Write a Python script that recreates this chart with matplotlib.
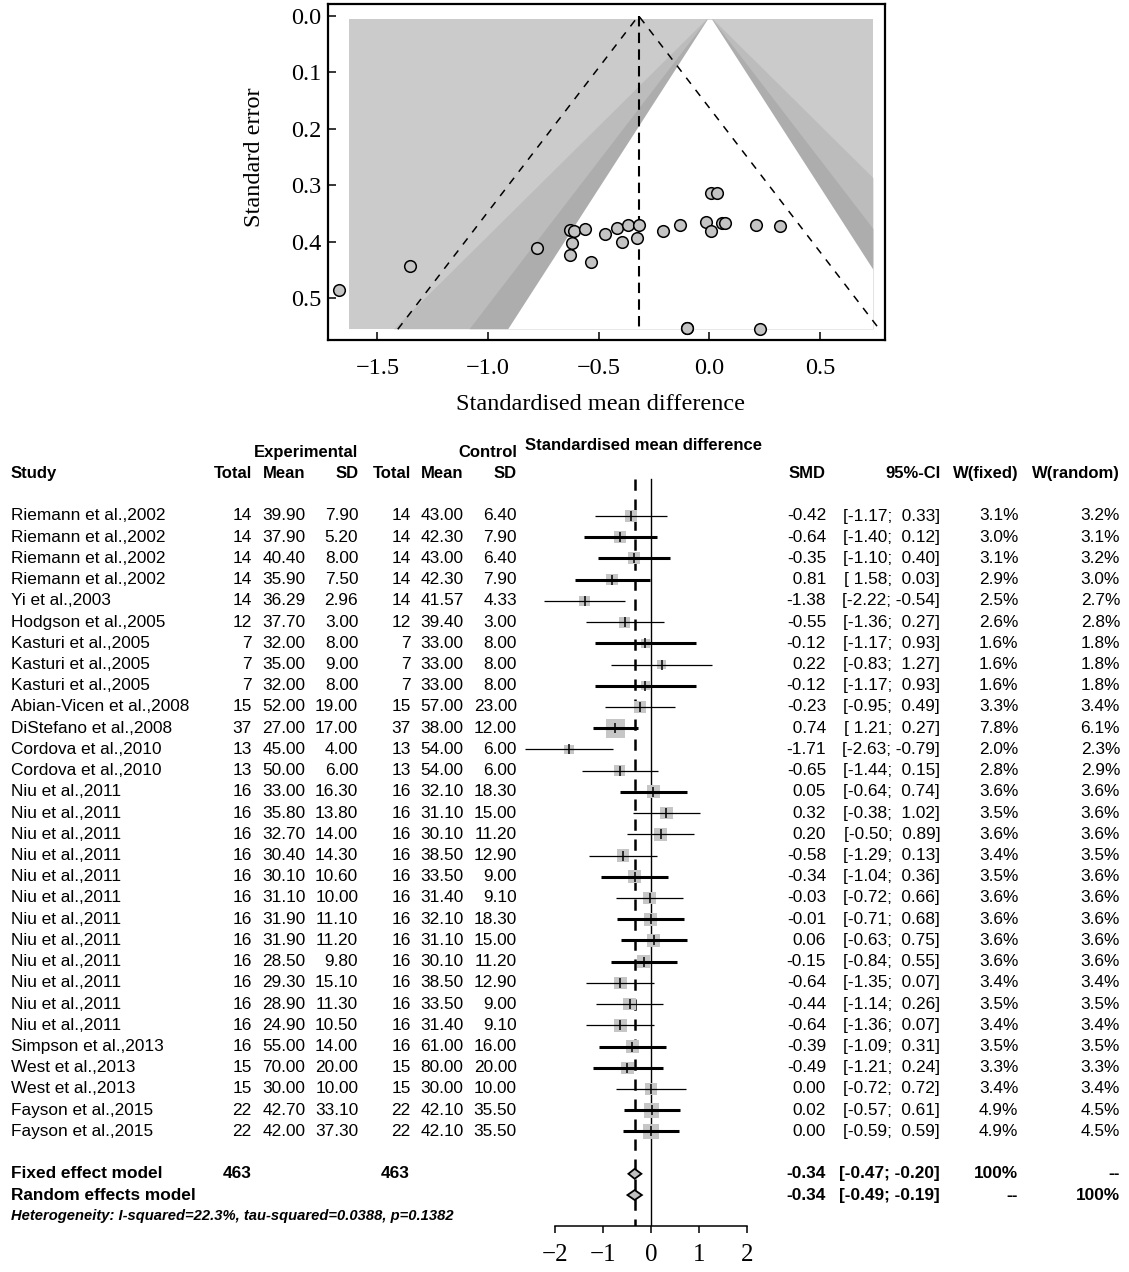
import matplotlib.pyplot as plt
from matplotlib.patches import Rectangle, Polygon
import numpy as np

# ---------------- data ----------------
studies = ["Riemann et al.,2002"] * 4 + ["Yi et al.,2003", "Hodgson et al.,2005"] + \
    ["Kasturi et al.,2005"] * 3 + ["Abian-Vicen et al.,2008", "DiStefano et al.,2008"] + \
    ["Cordova et al.,2010"] * 2 + ["Niu et al.,2011"] * 12 + ["Simpson et al.,2013"] + \
    ["West et al.,2013"] * 2 + ["Fayson et al.,2015"] * 2

exp_n = [14, 14, 14, 14, 14, 12, 7, 7, 7, 15, 37, 13, 13,
         16, 16, 16, 16, 16, 16, 16, 16, 16, 16, 16, 16, 16, 15, 15, 22, 22]
exp_mean = [39.90, 37.90, 40.40, 35.90, 36.29, 37.70, 32.00, 35.00, 32.00, 52.00, 27.00, 45.00, 50.00,
            33.00, 35.80, 32.70, 30.40, 30.10, 31.10, 31.90, 31.90, 28.50, 29.30, 28.90, 24.90,
            55.00, 70.00, 30.00, 42.70, 42.00]
exp_sd = [7.90, 5.20, 8.00, 7.50, 2.96, 3.00, 8.00, 9.00, 8.00, 19.00, 17.00, 4.00, 6.00,
          16.30, 13.80, 14.00, 14.30, 10.60, 10.00, 11.10, 11.20, 9.80, 15.10, 11.30, 10.50,
          14.00, 20.00, 10.00, 33.10, 37.30]
ctl_n = exp_n
ctl_mean = [43.00, 42.30, 43.00, 42.30, 41.57, 39.40, 33.00, 33.00, 33.00, 57.00, 38.00, 54.00, 54.00,
            32.10, 31.10, 30.10, 38.50, 33.50, 31.40, 32.10, 31.10, 30.10, 38.50, 33.50, 31.40,
            61.00, 80.00, 30.00, 42.10, 42.10]
ctl_sd = [6.40, 7.90, 6.40, 7.90, 4.33, 3.00, 8.00, 8.00, 8.00, 23.00, 12.00, 6.00, 6.00,
          18.30, 15.00, 11.20, 12.90, 9.00, 9.10, 18.30, 15.00, 11.20, 12.90, 9.00, 9.10,
          16.00, 20.00, 10.00, 35.50, 35.50]
smd = [-0.42, -0.64, -0.35, -0.81, -1.38, -0.55, -0.12, 0.22, -0.12, -0.23, -0.74, -1.71, -0.65,
       0.05, 0.32, 0.20, -0.58, -0.34, -0.03, -0.01, 0.06, -0.15, -0.64, -0.44, -0.64,
       -0.39, -0.49, 0.00, 0.02, 0.00]
ci_lo = [-1.17, -1.40, -1.10, -1.58, -2.22, -1.36, -1.17, -0.83, -1.17, -0.95, -1.21, -2.63, -1.44,
         -0.64, -0.38, -0.50, -1.29, -1.04, -0.72, -0.71, -0.63, -0.84, -1.35, -1.14, -1.36,
         -1.09, -1.21, -0.72, -0.57, -0.59]
ci_hi = [0.33, 0.12, 0.40, -0.03, -0.54, 0.27, 0.93, 1.27, 0.93, 0.49, -0.27, -0.79, 0.15,
         0.74, 1.02, 0.89, 0.13, 0.36, 0.66, 0.68, 0.75, 0.55, 0.07, 0.26, 0.07,
         0.31, 0.24, 0.72, 0.61, 0.59]
w_fixed = [3.1, 3.0, 3.1, 2.9, 2.5, 2.6, 1.6, 1.6, 1.6, 3.3, 7.8, 2.0, 2.8,
           3.6, 3.5, 3.6, 3.4, 3.5, 3.6, 3.6, 3.6, 3.6, 3.4, 3.5, 3.4, 3.5, 3.3, 3.4, 4.9, 4.9]
w_random = [3.2, 3.1, 3.2, 3.0, 2.7, 2.8, 1.8, 1.8, 1.8, 3.4, 6.1, 2.3, 2.9,
            3.6, 3.6, 3.6, 3.5, 3.6, 3.6, 3.6, 3.6, 3.6, 3.4, 3.5, 3.4, 3.5, 3.3, 3.4, 4.5, 4.5]

fixed_est, fixed_lo, fixed_hi = -0.34, -0.47, -0.20
random_est, random_lo, random_hi = -0.34, -0.49, -0.19
heterogeneity = "Heterogeneity: I-squared=22.3%, tau-squared=0.0388, p=0.1382"

# rows printed without minus signs in the original output
rows_minus_dropped = [3, 10]
# rows whose CI line is drawn heavy in the original
ci_heavy = [1, 2, 3, 6, 8, 10, 13, 17, 19, 20, 21, 25, 26, 28, 29]

# funnel plot points
funnel_smd = [-1.675, -1.351, -0.781, -0.631, -0.611, -0.622, -0.631, -0.562, -0.536, -0.474,
              -0.416, -0.395, -0.369, -0.326, -0.317, -0.208, -0.131, -0.103, -0.103, -0.015,
              0.008, 0.036, 0.009, 0.058, 0.071, 0.212, 0.227, 0.320]
funnel_se = [0.486, 0.443, 0.412, 0.379, 0.381, 0.403, 0.424, 0.378, 0.436, 0.387,
             0.375, 0.400, 0.371, 0.393, 0.371, 0.381, 0.371, 0.553, 0.553, 0.366,
             0.314, 0.314, 0.381, 0.367, 0.367, 0.371, 0.555, 0.373]
funnel_center = -0.32
contour_z = [2.576, 1.96, 1.645]

# ---------------- figure ----------------
W, H = 1129, 1272
plt.rcParams['font.family'] = ['Liberation Sans', 'DejaVu Sans']
fig = plt.figure(figsize=(W / 100, H / 100), dpi=100)
SERIF = 'Liberation Serif'


def frac(x0, y0, x1, y1):
    return [x0 / W, 1 - y1 / H, (x1 - x0) / W, (y1 - y0) / H]


# ---- funnel plot ----
axf = fig.add_axes(frac(328, 4, 885, 340))
axf.set_xlim(-1.723, 0.793)
axf.set_ylim(0.574, -0.0207)

rx0, rx1, rs0, rs1 = -1.628, 0.738, 0.006, 0.554
axf.add_patch(Rectangle((rx0, rs0), rx1 - rx0, rs1 - rs0, color='#cbcbcb', lw=0, zorder=1))
se_grid = np.linspace(rs0, rs1, 400)
for z, col in zip(contour_z, ['#bcbcbc', '#adadad', 'white']):
    axf.fill_betweenx(se_grid, np.clip(-z * se_grid, rx0, rx1), np.clip(z * se_grid, rx0, rx1),
                      color=col, lw=0, zorder=2)

se_max = max(funnel_se)
axf.plot([funnel_center - 1.96 * se_max, funnel_center, funnel_center + 1.96 * se_max],
         [se_max, 0, se_max], color='black', lw=1.1, ls=(0, (5, 5)), zorder=3)
axf.plot([funnel_center, funnel_center], [0, se_max], color='black', lw=1.5,
         ls=(0, (5, 3)), zorder=3)
axf.scatter(funnel_smd, funnel_se, s=70, facecolor='#c4c4c4', edgecolor='black',
            lw=1.1, zorder=4, clip_on=False)

xt = [-1.5, -1.0, -0.5, 0.0, 0.5]
axf.set_xticks(xt, [f"{v:.1f}".replace('-', '\u2212') for v in xt], fontfamily=SERIF, fontsize=17.5)
yt = [0.0, 0.1, 0.2, 0.3, 0.4, 0.5]
axf.set_yticks(yt, [f"{v:.1f}" for v in yt], fontfamily=SERIF, fontsize=17.5)
axf.tick_params(axis='both', direction='in', length=6, width=1.1)
axf.tick_params(axis='x', pad=13)
axf.tick_params(axis='y', pad=5)
for sp in axf.spines.values():
    sp.set_linewidth(1.6)

# ---- overlay for text ----
axt = fig.add_axes([0, 0, 1, 1])
axt.set_xlim(0, W)
axt.set_ylim(H, 0)
axt.axis('off')
axt.patch.set_alpha(0)

axt.text(254, 157, "Standard error", rotation=90, ha='center', va='center',
         fontfamily=SERIF, fontsize=17.5)
axt.text(600, 405, "Standardised mean difference", ha='center', va='center',
         fontfamily=SERIF, fontsize=17.5)

# ---- forest plot ----
row0, dy = 516, 21.22


def row_y(i):
    return row0 + dy * i


PX = 48.05  # pixels per SMD unit
axp = fig.add_axes(frac(515, 440, 790, 1226))
axp.set_xlim((515 - 651) / PX, (790 - 651) / PX)
axp.set_ylim(1226, 440)
for s in ['top', 'left', 'right']:
    axp.spines[s].set_visible(False)
axp.spines['bottom'].set_bounds(-2, 2)
axp.spines['bottom'].set_linewidth(1.1)
axp.set_yticks([])
axp.set_xticks([-2, -1, 0, 1, 2], ['\u22122', '\u22121', '0', '1', '2'],
               fontfamily=SERIF, fontsize=18)
axp.tick_params(axis='x', direction='out', length=5, width=1.1, pad=8)
axp.patch.set_alpha(0)

ytop = row_y(-1.75)
axp.plot([0, 0], [ytop, 1226], color='black', lw=1.0, zorder=2)
axp.plot([fixed_est, fixed_est], [ytop, 1226], color='black', lw=1.8,
         ls=(0, (4.5, 3.5)), zorder=2)

for i in range(len(smd)):
    y = row_y(i)
    side = 6.8 * np.sqrt(w_fixed[i])
    axp.add_patch(Rectangle((smd[i] - side / 2 / PX, y - side / 2), side / PX, side,
                            color='#c6c6c6', lw=0, zorder=3))
    axp.plot([ci_lo[i], ci_hi[i]], [y, y], color='black',
             lw=2.2 if i in ci_heavy else 0.9, zorder=4, solid_capstyle='butt')
    axp.plot([smd[i]], [y], marker='|', ms=7, mew=1.1, color='black', zorder=5)

for est, lo, hi, r in [(fixed_est, fixed_lo, fixed_hi, 31), (random_est, random_lo, random_hi, 32)]:
    y = row_y(r)
    axp.add_patch(Polygon([(lo, y), (est, y - 5), (hi, y), (est, y + 5)], closed=True,
                          facecolor='#c0c0c0', edgecolor='black', lw=1.3, zorder=4))

# ---- table text ----
FS = 12.4
cols = dict(exp_n=251.8, exp_mean=305.4, exp_sd=358.2, ctl_n=410.7, ctl_mean=463.6,
            ctl_sd=516.8, smd=826, ci=940.2, wf=1018.3, wr=1120)

hy1, hy2 = row_y(-3), row_y(-2)
bold = dict(fontweight='bold', fontsize=12, va='center')
axt.text(cols['exp_sd'], hy1, "Experimental", ha='right', **bold)
axt.text(cols['ctl_sd'], hy1, "Control", ha='right', **bold)
axt.text(525, row_y(-3.3), "Standardised mean difference", ha='left', **bold)
axt.text(10.7, hy2, "Study", ha='left', **bold)
for key, lab in [('exp_n', 'Total'), ('exp_mean', 'Mean'), ('exp_sd', 'SD'),
                 ('ctl_n', 'Total'), ('ctl_mean', 'Mean'), ('ctl_sd', 'SD'),
                 ('smd', 'SMD'), ('ci', '95%-CI'), ('wf', 'W(fixed)'), ('wr', 'W(random)')]:
    axt.text(cols[key], hy2, lab, ha='right', **bold)

for i in range(len(studies)):
    y = row_y(i)
    smd_txt = f"{smd[i]:.2f}"
    ci_txt = f"[{ci_lo[i]:5.2f};{ci_hi[i]:6.2f}]"
    if i in rows_minus_dropped:
        smd_txt = smd_txt.replace('-', ' ')
        ci_txt = ci_txt.replace('-', ' ')
    cells = [('exp_n', f"{exp_n[i]}"), ('exp_mean', f"{exp_mean[i]:.2f}"), ('exp_sd', f"{exp_sd[i]:.2f}"),
             ('ctl_n', f"{ctl_n[i]}"), ('ctl_mean', f"{ctl_mean[i]:.2f}"), ('ctl_sd', f"{ctl_sd[i]:.2f}"),
             ('smd', smd_txt), ('ci', ci_txt), ('wf', f"{w_fixed[i]:.1f}%"), ('wr', f"{w_random[i]:.1f}%")]
    axt.text(10.7, y, studies[i], ha='left', va='center', fontsize=FS)
    for key, txt in cells:
        axt.text(cols[key], y, txt, ha='right', va='center', fontsize=FS)

bold_row = dict(fontweight='bold', fontsize=FS, va='center')
y = row_y(31)
axt.text(10.7, y, "Fixed effect model", ha='left', **bold_row)
axt.text(cols['exp_n'], y, f"{sum(exp_n)}", ha='right', **bold_row)
axt.text(cols['ctl_n'] - 1, y, f"{sum(ctl_n)}", ha='right', **bold_row)
axt.text(cols['smd'], y, f"{fixed_est:.2f}", ha='right', **bold_row)
axt.text(cols['ci'], y, f"[{fixed_lo:.2f}; {fixed_hi:.2f}]", ha='right', **bold_row)
axt.text(cols['wf'], y, "100%", ha='right', **bold_row)
axt.text(cols['wr'], y, "--", ha='right', **bold_row)

y = row_y(32)
axt.text(10.7, y, "Random effects model", ha='left', **bold_row)
axt.text(cols['smd'], y, f"{random_est:.2f}", ha='right', **bold_row)
axt.text(cols['ci'], y, f"[{random_lo:.2f}; {random_hi:.2f}]", ha='right', **bold_row)
axt.text(cols['wf'], y, "--", ha='right', **bold_row)
axt.text(cols['wr'], y, "100%", ha='right', **bold_row)

axt.text(10.7, row_y(33), heterogeneity, ha='left', va='center', fontsize=10.6,
         fontweight='bold', fontstyle='italic')

fig.savefig("out.png", dpi=100)
